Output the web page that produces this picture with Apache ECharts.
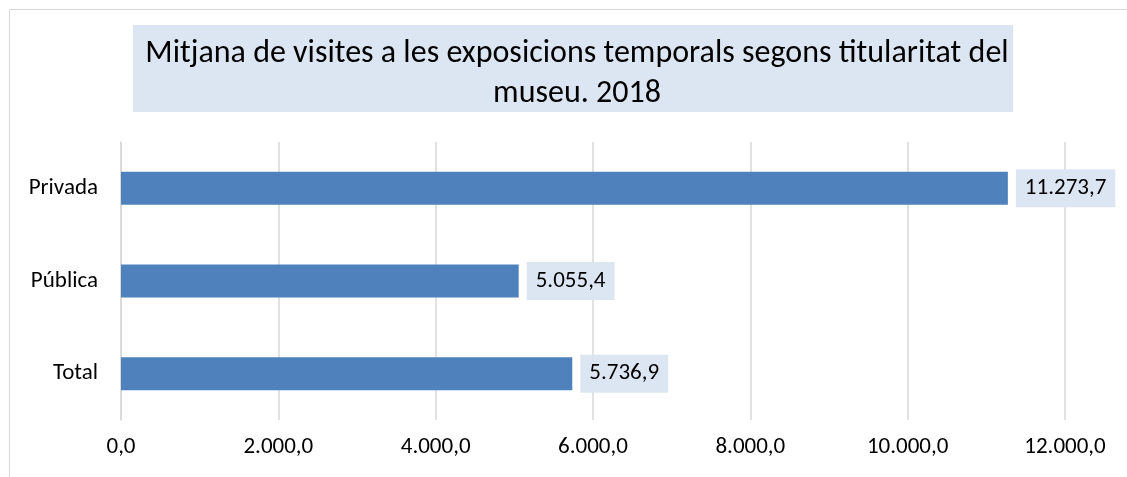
<!DOCTYPE html>
<html>
<head>
<meta charset="utf-8">
<script src="https://cdn.jsdelivr.net/npm/echarts@6/dist/echarts.min.js"></script>
<style>
html,body{margin:0;padding:0;background:#fff;}
#c{width:1127px;height:477px;}
</style>
</head>
<body>
<div id="c"></div>
<script>
const categories = ['Total', 'Pública', 'Privada'];
const values = [5736.9, 5055.4, 11273.7];
const titleText = 'Mitjana de visites a les exposicions temporals segons titularitat del\nmuseu. 2018';

function fmt(v, d) {
  const s = Number(v).toFixed(d);
  const parts = s.split('.');
  parts[0] = parts[0].replace(/\B(?=(\d{3})+(?!\d))/g, '.');
  return parts.join(',');
}

const FONT = 'Carlito, Calibri, Lato, sans-serif';
const chart = echarts.init(document.getElementById('c'));
chart.setOption({
  animation: false,
  graphic: [{
    type: 'rect', silent: true,
    shape: {x: 9.5, y: 9.5, width: 1200, height: 600},
    style: {fill: 'none', stroke: '#d9d9d9', lineWidth: 1}
  }, {
    type: 'rect', silent: true,
    shape: {x: 133, y: 25, width: 880, height: 87},
    style: {fill: '#dce6f2'}
  }],
  title: {
    text: titleText,
    left: 572, top: 29, textAlign: 'center',
    textStyle: {fontFamily: FONT, fontSize: 32, fontWeight: 'normal', color: '#000', lineHeight: 40}
  },
  grid: {left: 121, right: 62, top: 142, bottom: 57, containLabel: false},
  xAxis: {
    type: 'value', min: 0, max: 12000, interval: 2000,
    axisLine: {show: false}, axisTick: {show: false},
    splitLine: {lineStyle: {color: '#d9d9d9', width: 1.5}},
    axisLabel: {fontFamily: FONT, fontSize: 23, color: '#000', margin: 16,
      formatter: v => fmt(v, 1)}
  },
  yAxis: {
    type: 'category', data: categories,
    axisLine: {show: true, lineStyle: {color: '#d9d9d9', width: 1.5}},
    axisTick: {show: false},
    axisLabel: {fontFamily: FONT, fontSize: 23, color: '#000', margin: 23}
  },
  series: [{
    type: 'bar', data: values, barWidth: 33,
    itemStyle: {color: '#4f81bd'},
    label: {
      show: true, position: 'right', distance: 8,
      fontFamily: FONT, fontSize: 23, lineHeight: 24, color: '#000',
      backgroundColor: '#dce6f2', padding: [8, 9, 6, 9],
      formatter: p => fmt(p.value, 1)
    }
  }]
});
</script>
</body>
</html>
